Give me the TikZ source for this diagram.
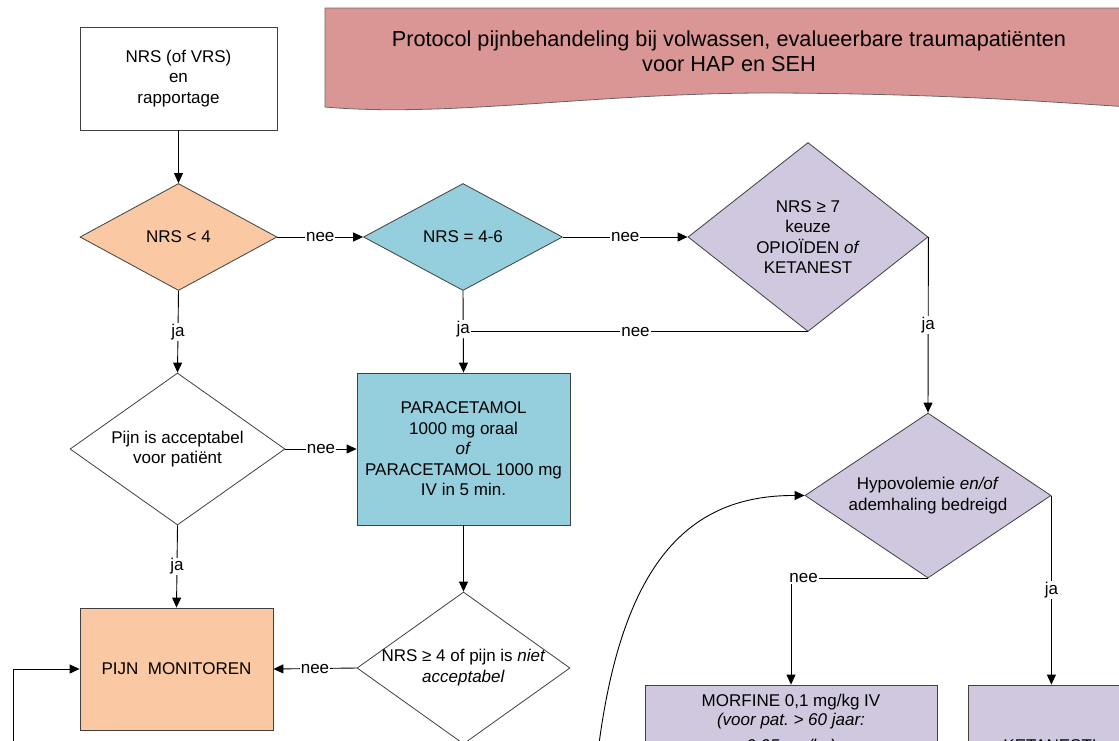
\documentclass[tikz,border=0pt]{standalone}
\usepackage{fontspec}
\setmainfont{Liberation Sans}
\usetikzlibrary{arrows.meta,shapes.geometric}
\definecolor{peach}{HTML}{FAC8A2}
\definecolor{aqua}{HTML}{95CEDD}
\definecolor{lav}{HTML}{D0C8DE}
\definecolor{rose}{HTML}{D99694}
\definecolor{edge}{HTML}{404040}
\frenchspacing
\begin{document}
\begin{tikzpicture}[x=1pt,y=-1pt,
  font=\fontsize{17}{20.5}\selectfont,
  boxnode/.style={rectangle,draw=edge,line width=0.8pt,align=center,inner sep=0pt},
  dianode/.style={diamond,draw=edge,line width=0.8pt,align=center,inner sep=0pt},
  conn/.style={line width=0.9pt,black},
  arr/.style={conn,-{Triangle[length=10pt,width=9pt]}},
  lbl/.style={fill=white,inner sep=1pt,font=\fontsize{17}{20}\selectfont}
]
\useasboundingbox (0,0) rectangle (1119,740);
\clip (0,0) rectangle (1119,740);
\fill[white] (0,0) rectangle (1119,740);

% title banner
\draw[fill=rose,draw=black!60,line width=0.8pt] (325,8) -- (1130,8) -- (1130,107)
  .. controls (1050,102) and (950,94) .. (780,93)
  .. controls (600,92) and (450,118) .. (325,107) -- cycle;
\node[align=center,font=\fontsize{21.7}{25}\selectfont] (title) at (729,51)
  {Protocol pijnbehandeling bij volwassen, evalueerbare traumapatiënten\\voor HAP en SEH};

% nodes
\node[boxnode,fill=white,minimum width=197pt,minimum height=103pt] (start) at (178.5,78.5)
  {NRS (of VRS)\\en\\rapportage};
\node[dianode,fill=peach,minimum width=197pt,minimum height=107pt,aspect=1.84] (d4) at (178.5,237) {NRS < 4};
\node[dianode,fill=aqua,minimum width=199pt,minimum height=107pt,aspect=1.86] (d46) at (463,237) {NRS = 4-6};
\node[dianode,fill=lav,minimum width=240pt,minimum height=189pt,aspect=1.27] (d7) at (808,237)
  {NRS ≥ 7\\keuze\\OPIOÏDEN \textit{of}\\KETANEST};
\node[dianode,fill=white,minimum width=215pt,minimum height=152pt,aspect=1.41] (pacc) at (177.5,449)
  {Pijn is acceptabel\\voor patiënt};
\node[boxnode,fill=aqua,minimum width=213pt,minimum height=152pt] (para) at (463.5,449)
  {PARACETAMOL\\1000 mg oraal\\\textit{of}\\PARACETAMOL 1000 mg\\IV in 5 min.};
\node[dianode,fill=white,minimum width=213pt,minimum height=152pt,aspect=1.4] (d4b) at (463.5,668)
  {\makebox[0pt]{\begin{tabular}{@{}c@{}}NRS ≥ 4 of pijn is \textit{niet}\\\textit{acceptabel}\end{tabular}}};
\node[boxnode,fill=peach,minimum width=193pt,minimum height=122pt] (pm) at (176.5,669) {PIJN\ \ MONITOREN};
\node[dianode,fill=lav,minimum width=246pt,minimum height=165pt,aspect=1.49] (hypo) at (928,495.5)
  {Hypovolemie \textit{en/of}\\ademhaling bedreigd};
\node[boxnode,fill=lav,minimum width=292pt,minimum height=79pt,font=\fontsize{17}{19.5}\selectfont] (mor) at (791,724.5)
  {MORFINE 0,1 mg/kg IV\\\textit{(voor pat. > 60 jaar:}\\[6pt]\textit{0,05 mg/kg)}};
\node[boxnode,fill=lav,minimum width=164pt,minimum height=122pt] (ket) at (1050,746) {KETANEST!};

\coordinate (loopstart) at (13,760);
\coordinate (curvestart) at (597,760);

% connectors
\draw[arr] (start) -- (d4);
\draw[arr] (d4.east) -- node[lbl]{nee} (d46.west);
\draw[arr] (d46.east) -- node[lbl]{nee} (d7.west);
\draw[conn] (d7.south) -- node[lbl]{nee} (d7.south -| d46.south);
\draw[arr] (d46.south) -- node[lbl,pos=0.47]{ja} (para.north);
\draw[arr] (d4.south) -- node[lbl]{ja} (pacc.north);
\draw[arr] (pacc.east) -- node[lbl]{nee} (para.west);
\draw[arr] (pacc.south) -- node[lbl]{ja} (pm.north);
\draw[arr] (para.south) -- (d4b.north);
\draw[arr] (d4b.west) -- node[lbl]{nee} (pm.east);
\draw[arr] (loopstart) |- (pm.west);
\draw[arr] (d7.east) -- node[lbl]{ja} (hypo.north);
\draw[arr] (hypo.south) -- (mor.north |- hypo.south) node[lbl,anchor=west,xshift=-3pt]{nee} -- (mor.north);
\draw[arr] (hypo.east) -- node[lbl]{ja} (hypo.east |- ket.north);
\draw[conn,-{Triangle[length=10pt,width=9pt]}] (curvestart) .. controls (620,560) and (690,495) .. (hypo.west);
\end{tikzpicture}
\end{document}
